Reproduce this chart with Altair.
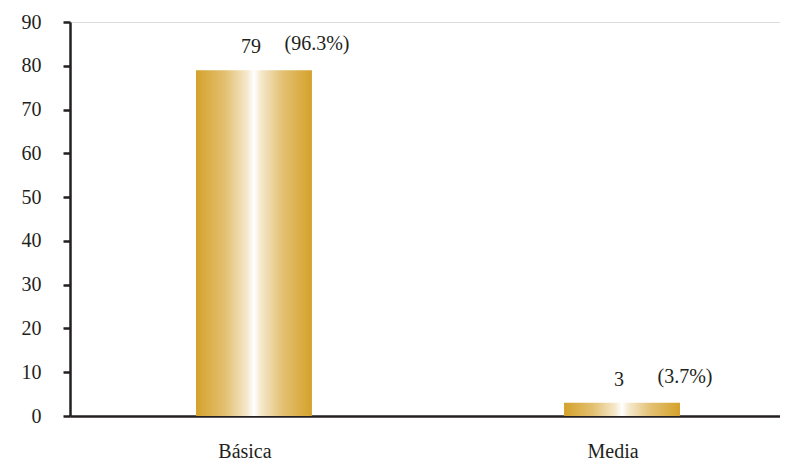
import altair as alt
import pandas as pd

categories = ["Básica", "Media"]
counts = [79, 3]
percents = ["(96.3%)", "(3.7%)"]
y_ticks = [0, 10, 20, 30, 40, 50, 60, 70, 80, 90]

df = pd.DataFrame({"nivel": categories, "n": counts, "pct": percents})

INK = "#231F20"
FONT = "Liberation Serif"
FS = 20

gold = alt.Gradient(
    gradient="linear", x1=0, x2=1, y1=0, y2=0,
    stops=[
        alt.GradientStop(color="#D4A12B", offset=0),
        alt.GradientStop(color="#E3C071", offset=0.25),
        alt.GradientStop(color="#F5E8CC", offset=0.44),
        alt.GradientStop(color="#FFFFFF", offset=0.5),
        alt.GradientStop(color="#F5E8CC", offset=0.56),
        alt.GradientStop(color="#E3C071", offset=0.75),
        alt.GradientStop(color="#D4A12B", offset=1),
    ],
)

xscale = alt.Scale(paddingInner=0.685, paddingOuter=0.307, align=0.5575)

x = alt.X("nivel:N", sort=categories, scale=xscale, title=None,
          axis=alt.Axis(labelAngle=0, ticks=False, tickSize=0, labelPadding=25,
                        labelOffset=-9, labelFont=FONT, labelFontSize=FS,
                        labelColor=INK, domainColor=INK, domainWidth=2.5,
                        grid=False))
y = alt.Y("n:Q", scale=alt.Scale(domain=[0, 90], nice=False), title=None,
          axis=alt.Axis(values=y_ticks, tickSize=7, tickWidth=2.5, tickColor=INK,
                        labelPadding=22, labelFont=FONT, labelFontSize=FS,
                        labelColor=INK, domainColor=INK, domainWidth=2.5,
                        grid=False))

bars = alt.Chart(df).mark_bar(color=gold).encode(x=x, y=y)

count_txt = alt.Chart(df).mark_text(
    font=FONT, fontSize=FS, color=INK, dx=-3, dy=-17, baseline="alphabetic"
).encode(x=alt.X("nivel:N", sort=categories), y="n:Q", text="n:Q")

pct_txt = alt.Chart(df).mark_text(
    font=FONT, fontSize=FS, color=INK, dx=63, dy=-20, baseline="alphabetic"
).encode(x=alt.X("nivel:N", sort=categories), y="n:Q", text="pct:N")

chart = (bars + count_txt + pct_txt).properties(
    width=710, height=394,
    autosize=alt.AutoSizeParams(type="none"),
    padding={"left": 62, "top": 14, "right": 0, "bottom": 46},
).configure_view(stroke=None).configure(background="white")

chart.save("out.html", embed_options={"renderer": "svg", "actions": False})
